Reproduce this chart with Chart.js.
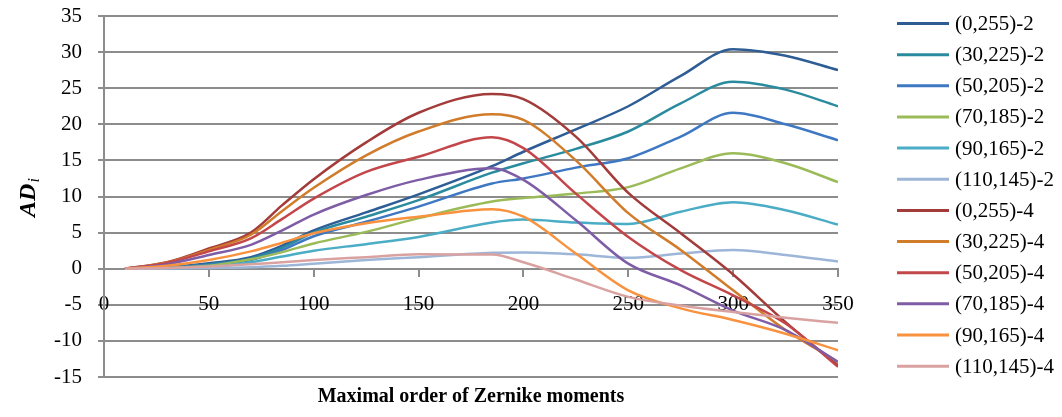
<!DOCTYPE html>
<html>
<head>
<meta charset="utf-8">
<script src="https://cdn.jsdelivr.net/npm/chart.js@4.4.0/dist/chart.umd.min.js"></script>
<style>
  html, body { margin: 0; padding: 0; background: #fff; }
  #wrap { width: 1062px; height: 417px; }
</style>
</head>
<body>
<div id="wrap"><canvas id="chart" width="1062" height="417"></canvas></div>
<script>
// maximal order of Zernike moments (x positions of the sampled points)
var orders = [10, 30, 50, 70, 85, 100, 125, 150, 185, 200, 225, 250, 275, 300, 325, 350];

var seriesNames = ['(0,255)-2', '(30,225)-2', '(50,205)-2', '(70,185)-2', '(90,165)-2', '(110,145)-2',
                   '(0,255)-4', '(30,225)-4', '(50,205)-4', '(70,185)-4', '(90,165)-4', '(110,145)-4'];

var seriesColors = ['#2E5D96', '#2B8B9E', '#3E78C3', '#9BBB59', '#4BACC6', '#9DB6D8',
                    '#A23B39', '#D17C2B', '#C3474A', '#7E5CA6', '#F8923F', '#D9A2A1'];

// AD_i values
var ad_0_255_2   = [0, 0.2, 0.75, 1.6, 3.2, 5.3, 7.8, 10.3, 14.2, 16.2, 19.3, 22.5, 26.7, 30.4, 29.5, 27.5];
var ad_30_225_2  = [0, 0.15, 0.6, 1.4, 2.9, 5.0, 7.2, 9.5, 13.3, 14.6, 16.6, 19.0, 22.9, 25.9, 24.8, 22.5];
var ad_50_205_2  = [0, 0.1, 0.5, 1.2, 2.6, 4.5, 6.5, 8.6, 11.8, 12.5, 14.0, 15.3, 18.3, 21.6, 20.0, 17.8];
var ad_70_185_2  = [0, 0.1, 0.4, 1.3, 2.3, 3.5, 5.1, 7.0, 9.3, 9.8, 10.4, 11.3, 13.9, 16.0, 14.6, 12.0];
var ad_90_165_2  = [0, 0.05, 0.2, 0.9, 1.7, 2.5, 3.4, 4.4, 6.4, 6.8, 6.4, 6.2, 7.9, 9.2, 8.1, 6.1];
var ad_110_145_2 = [0, 0.02, 0.1, 0.2, 0.4, 0.7, 1.2, 1.6, 2.2, 2.25, 2.0, 1.5, 2.1, 2.6, 1.9, 1.0];
var ad_0_255_4   = [0, 0.9, 2.8, 5.0, 8.8, 12.4, 17.5, 21.6, 24.2, 23.5, 18.3, 10.5, 4.9, -0.8, -7.4, -13.4];
var ad_30_225_4  = [0, 0.85, 2.6, 4.7, 8.0, 11.2, 15.7, 19.0, 21.4, 20.6, 15.0, 7.7, 2.6, -3.0, -8.5, -12.9];
var ad_50_205_4  = [0, 0.8, 2.4, 4.2, 6.9, 9.7, 13.4, 15.5, 18.2, 16.7, 10.4, 4.4, -0.2, -3.7, -7.6, -13.6];
var ad_70_185_4  = [0, 0.6, 1.9, 3.3, 5.3, 7.5, 10.2, 12.3, 13.9, 12.3, 6.7, 0.7, -2.3, -5.8, -8.5, -12.9];
var ad_90_165_4  = [0, 0.4, 1.2, 2.4, 3.6, 4.9, 6.3, 7.2, 8.25, 7.2, 2.1, -3.0, -5.5, -7.1, -9.0, -11.3];
var ad_110_145_4 = [0, 0.1, 0.3, 0.6, 0.9, 1.2, 1.6, 2.0, 1.95, 0.9, -1.5, -3.9, -5.1, -6.0, -6.8, -7.5];

var seriesValues = [ad_0_255_2, ad_30_225_2, ad_50_205_2, ad_70_185_2, ad_90_165_2, ad_110_145_2,
                    ad_0_255_4, ad_30_225_4, ad_50_205_4, ad_70_185_4, ad_90_165_4, ad_110_145_4];

var xTitle = 'Maximal order of Zernike moments';
var yTitleMain = 'AD';
var yTitleSub = 'i';

var gridGray = '#8c8c8c';
var serif = '"Liberation Serif", "Times New Roman", serif';

var datasets = seriesValues.map(function(vals, i) {
    return {
        label: seriesNames[i],
        data: vals.map(function(v, k) { return { x: orders[k], y: v }; }),
        borderColor: seriesColors[i],
        backgroundColor: seriesColors[i],
        borderWidth: 2.5,
        pointRadius: 0,
        fill: false,
        cubicInterpolationMode: 'monotone',
        order: seriesValues.length - i
    };
});

// axis titles and the legend on the right
var decorPlugin = {
    id: 'decor',
    afterDraw: function(chart) {
        var ctx = chart.ctx;
        var area = chart.chartArea;
        ctx.save();
        ctx.fillStyle = '#000';

        ctx.font = 'bold 20px ' + serif;
        ctx.textAlign = 'center';
        ctx.textBaseline = 'alphabetic';
        ctx.fillText(xTitle, (area.left + area.right) / 2, 402);

        // rotated y title with subscript
        ctx.save();
        ctx.translate(35, 198);
        ctx.rotate(-Math.PI / 2);
        ctx.textAlign = 'left';
        ctx.font = 'italic bold 24px ' + serif;
        var wMain = ctx.measureText(yTitleMain).width;
        ctx.font = 'italic 16px ' + serif;
        var wSub = ctx.measureText(yTitleSub).width;
        var start = -(wMain + wSub) / 2;
        ctx.font = 'italic bold 24px ' + serif;
        ctx.fillText(yTitleMain, start, 0);
        ctx.font = 'italic 16px ' + serif;
        ctx.fillText(yTitleSub, start + wMain + 1, 4);
        ctx.restore();

        // legend
        ctx.font = '21px ' + serif;
        ctx.textAlign = 'left';
        ctx.textBaseline = 'middle';
        for (var i = 0; i < seriesNames.length; i++) {
            var y = 23.5 + i * 31.15;
            ctx.strokeStyle = seriesColors[i];
            ctx.lineWidth = 3;
            ctx.beginPath();
            ctx.moveTo(897, y);
            ctx.lineTo(949, y);
            ctx.stroke();
            ctx.fillText(seriesNames[i], 955, y + 1);
        }
        ctx.restore();
    }
};

Chart.defaults.font.family = serif;

new Chart(document.getElementById('chart'), {
    type: 'line',
    data: { datasets: datasets },
    options: {
        responsive: false,
        animation: false,
        layout: { padding: { left: 0, right: 224, top: 16, bottom: 40 } },
        plugins: {
            legend: { display: false },
            tooltip: { enabled: false }
        },
        scales: {
            x: {
                type: 'linear',
                min: 0,
                max: 350,
                position: { y: 0 },
                ticks: { stepSize: 50, color: '#000', font: { size: 21 }, padding: 16, maxRotation: 0 },
                grid: { drawOnChartArea: false, drawTicks: true, tickLength: 7, color: gridGray, lineWidth: 2 },
                border: { color: gridGray, width: 2 }
            },
            y: {
                type: 'linear',
                min: -15,
                max: 35,
                ticks: { stepSize: 5, color: '#000', font: { size: 21 }, padding: 16 },
                grid: { color: gridGray, lineWidth: 2, tickLength: 6 },
                border: { color: gridGray, width: 2 },
                afterFit: function(scale) {
                    scale.width = 104;
                    scale.paddingTop = 0;
                    scale.paddingBottom = 0;
                }
            }
        }
    },
    plugins: [decorPlugin]
});
</script>
</body>
</html>
